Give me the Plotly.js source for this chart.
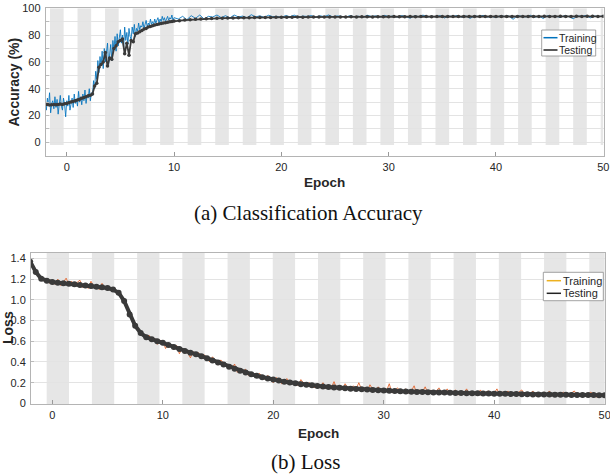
<!DOCTYPE html>
<html>
<head>
<meta charset="utf-8">
<script src="https://cdn.plot.ly/plotly-3.0.1.min.js"></script>
<style>html,body{margin:0;padding:0;background:#fff}#chart{width:610px;height:475px}</style>
</head>
<body>
<div id="chart"></div>
<script>
// ---------------- DATA ----------------
// (a) Classification accuracy (%)
const accTrainStartA = -2, accTrainStepA = 0.1;
const accTrainA = [
 30, 24, 33, 27, 37, 22, 29, 31, 25, 34,
 26, 32, 21, 30, 35, 27, 24, 33, 28, 19,
 31, 27, 35, 24, 30, 33, 26, 36, 29, 32,
 27, 38, 30, 34, 28, 36, 31, 39, 29, 35,
 33, 40, 31, 37, 35, 46, 40, 53, 47, 61,
 52, 64, 57, 68, 55, 70, 60, 66, 74, 58,
 67, 73, 61, 76, 69, 79, 68, 81, 72, 78,
 84, 74, 80, 70, 86, 76, 82, 73, 85, 79,
 77, 86, 81, 88, 79, 85, 83, 89, 84, 87,
 86, 90, 85, 88, 91, 86, 89, 87, 92, 88,
 90, 88, 92, 89, 91, 93, 89, 92, 90, 94,
 91, 93, 90, 92, 94, 91, 93, 92, 95, 91,
 93];
const accTrainStartB = 10.4, accTrainStepB = 0.4;
const accTrainB = [
 92, 94, 91.5, 94.5, 92.5, 95, 92, 94, 93.5, 95,
 93, 94.5, 92.8, 95, 93.5, 94.2, 93, 95.2, 93.6, 94.4,
 93.2, 94.8, 93.8, 94, 93.1, 94.6, 93.7, 94.9, 93.4, 94.2,
 93.9, 94.6, 93.3, 94.4, 93.8, 95, 93.6, 94.3, 94, 93.5,
 94.5, 93.7, 94.1, 93.2, 94.8, 93.9, 94.3, 93.6, 94.7, 93.8,
 94.2, 93.5, 94.6, 93.9, 92.6, 94.4, 93.8, 94.9, 93.6, 94.1,
 93.7, 94.5, 92.8, 94.2, 93.9, 94.6, 93.4, 94.3, 92.5, 94.4,
 93.8, 94.7, 93.5, 94.1, 93, 94.5, 93.9, 94.2, 91.8, 94.6,
 94, 93.6, 94.8, 93.3, 94.2, 92.4, 94.5, 93.9, 94.1, 93.2,
 94.6, 93.8, 92.2, 94.3, 93.9, 94.7, 92.9, 94.2, 93.7, 94.4];
const accTestStartA = -2, accTestStepA = 0.2;
const accTestA = [
 28, 28.2, 27.8, 28, 28.3, 28, 28.2, 28.5, 28.3, 28.8,
 29, 29.5, 30, 30.5, 31, 31.5, 32.2, 32.8, 33.5, 34,
 34.8, 35.2, 36, 42, 44, 56, 58, 60, 67, 57,
 63, 62, 70, 72, 75, 76, 77, 66, 74, 65,
 76, 75, 81, 81.5, 82.5, 83.5, 84.5, 85, 86, 86.5,
 87, 87.5, 88, 88.3, 88.6, 89, 89.3, 89.6, 89.9, 90.2,
 90.5];
const accTestStartB = 10.5, accTestStepB = 0.5;
const accTestB = [
 90.8, 91.2, 91.5, 91.8, 92, 92.2, 92.4, 92.5, 92.6, 92.7,
 92.8, 92.9, 93, 93, 93.1, 93.1, 93.2, 93.2, 93.3, 93.3,
 93.4, 93.4, 93.5, 93.4, 93.5, 93.5, 93.5, 93.6, 93.5, 93.6,
 93.6, 93.6, 93.7, 93.6, 93.7, 93.7, 93.6, 93.7, 93.7, 93.7,
 93.8, 93.7, 93.7, 93.8, 93.7, 93.8, 93.8, 93.7, 93.8, 93.8,
 93.8, 93.8, 93.9, 93.8, 93.8, 93.9, 93.8, 93.9, 93.8, 93.9,
 93.9, 93.8, 93.9, 93.9, 93.9, 93.8, 93.9, 93.9, 94, 93.9,
 93.9, 94, 93.9, 93.9, 94, 93.9, 94, 94, 93.9, 94];

// (b) Loss
const lossTrainStart = -2, lossTrainStep = 0.25;
const lossTrain = [
 1.38, 1.31, 1.29, 1.22, 1.21, 1.18, 1.2, 1.16,
 1.19, 1.15, 1.2, 1.14, 1.17, 1.21, 1.15, 1.18,
 1.13, 1.17, 1.19, 1.12, 1.15, 1.11, 1.18, 1.13,
 1.14, 1.1, 1.16, 1.11, 1.13, 1.09, 1.12, 1.07,
 1.08, 1.03, 1.0, 0.94, 0.87, 0.8, 0.76, 0.71,
 0.69, 0.66, 0.63, 0.66, 0.6, 0.63, 0.57, 0.61,
 0.6, 0.53, 0.58, 0.55, 0.52, 0.56, 0.48, 0.53,
 0.51, 0.49, 0.44, 0.5, 0.47, 0.49, 0.43, 0.47,
 0.44, 0.4, 0.45, 0.41, 0.37, 0.42, 0.39, 0.36,
 0.37, 0.34, 0.38, 0.3, 0.34, 0.31, 0.33, 0.27,
 0.3, 0.28, 0.25, 0.29, 0.26, 0.23, 0.27, 0.24,
 0.2, 0.25, 0.23, 0.19, 0.22, 0.24, 0.19, 0.21,
 0.2, 0.17, 0.23, 0.19, 0.16, 0.2, 0.18, 0.15,
 0.19, 0.16, 0.2, 0.14, 0.17, 0.15, 0.21, 0.14,
 0.16, 0.13, 0.19, 0.15, 0.12, 0.17, 0.14, 0.2,
 0.13, 0.15, 0.11, 0.18, 0.14, 0.12, 0.16, 0.11,
 0.14, 0.12, 0.19, 0.1, 0.13, 0.15, 0.11, 0.12,
 0.14, 0.1, 0.12, 0.17, 0.09, 0.13, 0.11, 0.16,
 0.1, 0.13, 0.09, 0.12, 0.15, 0.1, 0.11, 0.14,
 0.09, 0.11, 0.13, 0.08, 0.12, 0.1, 0.14, 0.09,
 0.11, 0.1, 0.08, 0.13, 0.09, 0.11, 0.12, 0.08,
 0.1, 0.14, 0.08, 0.11, 0.09, 0.12, 0.07, 0.1,
 0.09, 0.11, 0.13, 0.08, 0.1, 0.09, 0.12, 0.07,
 0.1, 0.08, 0.11, 0.09, 0.12, 0.07, 0.1, 0.09,
 0.08, 0.11, 0.09, 0.07, 0.1, 0.12, 0.08, 0.09,
 0.1, 0.07, 0.09, 0.11, 0.08, 0.06, 0.09, 0.08,
 0.09];
const lossTestStart = -2, lossTestStep = 0.5;
const lossTest = [
 1.37, 1.27, 1.205, 1.185, 1.172, 1.166, 1.16, 1.155, 1.15, 1.145,
 1.14, 1.135, 1.128, 1.122, 1.115, 1.10, 1.07, 0.99, 0.86, 0.75,
 0.68, 0.64, 0.62, 0.60, 0.585, 0.565, 0.545, 0.525, 0.505, 0.49,
 0.475, 0.455, 0.435, 0.415, 0.395, 0.375, 0.355, 0.335, 0.315, 0.298,
 0.282, 0.267, 0.253, 0.24, 0.23, 0.22, 0.21, 0.202, 0.194, 0.186,
 0.18, 0.174, 0.168, 0.163, 0.158, 0.154, 0.15, 0.146, 0.142, 0.139,
 0.136, 0.133, 0.13, 0.128, 0.125, 0.122, 0.12, 0.117, 0.115, 0.113,
 0.111, 0.109, 0.108, 0.106, 0.105, 0.104, 0.102, 0.101, 0.1, 0.099,
 0.098, 0.097, 0.096, 0.095, 0.094, 0.093, 0.092, 0.091, 0.09, 0.089,
 0.088, 0.087, 0.087, 0.086, 0.085, 0.084, 0.084, 0.083, 0.082, 0.082,
 0.081, 0.08, 0.08, 0.079, 0.079];

const accTickVals = [0, 10, 20, 30, 40, 50, 60, 70, 80, 90, 100];
const accTickText = ['0', '', '20', '', '40', '', '60', '', '80', '', '100'];
const lossTickVals = [0, 0.2, 0.4, 0.6, 0.8, 1.0, 1.2, 1.4];
const lossTickText = ['0', '0.2', '0.4', '0.6', '0.8', '1.0', '1.2', '1.4'];
const epochTickVals = [0, 10, 20, 30, 40, 50];
const seriesNames = ['Training', 'Testing'];
const captions = ['(a) Classification Accuracy', '(b) Loss'];

// ---------------- HELPERS ----------------
function epochs(start, step, n) { const a = []; for (let i = 0; i < n; i++) a.push(+(start + i * step).toFixed(4)); return a; }
const W = 610, H = 475;
const px = v => v / W, py = v => 1 - v / H;

const accTrainX = epochs(accTrainStartA, accTrainStepA, accTrainA.length).concat(epochs(accTrainStartB, accTrainStepB, accTrainB.length));
const accTrainY = accTrainA.concat(accTrainB);
const accTestX = epochs(accTestStartA, accTestStepA, accTestA.length).concat(epochs(accTestStartB, accTestStepB, accTestB.length));
const accTestY = accTestA.concat(accTestB);
const lossTrainX = epochs(lossTrainStart, lossTrainStep, lossTrain.length);
const lossTestX = epochs(lossTestStart, lossTestStep, lossTest.length);

const BLUE = '#0072BD', ORANGE = '#E2581A', LEG_ORANGE = '#EDB120', DARK = '#3a3a3a';
const TXT = '#262626', AXC = '#b4b4b4', GRID = '#e3e3e3', BAND = '#e6e6e6';
const sans = 'Liberation Sans, Arial, Helvetica, sans-serif';
const serif = 'Liberation Serif, Times New Roman, serif';

const traces = [
  {x: accTrainX, y: accTrainY, name: seriesNames[0], type: 'scatter', mode: 'lines',
   line: {color: BLUE, width: 1}, opacity: 0.85, xaxis: 'x', yaxis: 'y', showlegend: false},
  {x: accTestX, y: accTestY, name: seriesNames[1], type: 'scatter', mode: 'lines+markers',
   line: {color: DARK, width: 1.8}, marker: {color: DARK, size: 3.5}, xaxis: 'x', yaxis: 'y', showlegend: false},
  {x: lossTrainX, y: lossTrain, name: seriesNames[0], type: 'scatter', mode: 'lines',
   line: {color: ORANGE, width: 1}, opacity: 0.8, xaxis: 'x2', yaxis: 'y2', showlegend: false},
  {x: lossTestX, y: lossTest, name: seriesNames[1], type: 'scatter', mode: 'lines+markers',
   line: {color: DARK, width: 4}, marker: {color: DARK, size: 6}, xaxis: 'x2', yaxis: 'y2', showlegend: false}
];

// background bands
const shapes = [];
for (let k = 0; k < 21; k++) {
  const s = -1.56 + k * 2.566;
  if (s >= 50) break;
  shapes.push({type: 'rect', xref: 'x', yref: 'y', x0: s, x1: Math.min(s + 1.27, 50), y0: -2, y1: 100,
    fillcolor: BAND, line: {width: 0}, layer: 'below'});
}
for (let k = 0; k < 14; k++) {
  const s = -0.51 + k * 4.093;
  if (s >= 50) break;
  shapes.push({type: 'rect', xref: 'x2', yref: 'y2', x0: s, x1: Math.min(s + 2.02, 50), y0: -0.006, y1: 1.456,
    fillcolor: BAND, line: {width: 0}, layer: 'below'});
}
// custom legends
function legendBox(x0, y0, x1, y1) {
  shapes.push({type: 'rect', xref: 'paper', yref: 'paper', x0: px(x0), x1: px(x1), y0: py(y1), y1: py(y0),
    fillcolor: '#ffffff', line: {color: '#8c8c8c', width: 0.8}, layer: 'above'});
}
function legendLine(x0, x1, y, color) {
  shapes.push({type: 'line', xref: 'paper', yref: 'paper', x0: px(x0), x1: px(x1), y0: py(y), y1: py(y),
    line: {color: color, width: 1.5}, layer: 'above'});
}
legendBox(541.7, 30, 595.7, 56);
legendLine(543.5, 557.5, 37.7, BLUE);
legendLine(543.5, 557.5, 50, '#222222');
legendBox(543.3, 272.3, 603.3, 300.7);
legendLine(546.7, 561, 280.7, LEG_ORANGE);
legendLine(546.7, 561, 293.3, '#222222');

function ann(text, x, y, size, opts) {
  return Object.assign({text: text, x: px(x), y: py(y), xref: 'paper', yref: 'paper', showarrow: false,
    xanchor: 'center', yanchor: 'middle', font: {family: sans, size: size, color: TXT}}, opts || {});
}
const annotations = [
  ann('Accuracy (%)', 14, 82.5, 14, {textangle: -90, font: {family: sans, size: 14, color: TXT, weight: 'bold'}}),
  ann('Epoch', 324.6, 182.3, 13.5, {font: {family: sans, size: 13.5, color: TXT, weight: 'bold'}}),
  ann(captions[0], 308, 213, 21, {font: {family: serif, size: 21, color: '#111'}}),
  ann('Loss', 8, 328, 14, {textangle: -90, borderpad: 0, font: {family: sans, size: 14, color: TXT, weight: 'bold'}}),
  ann('Epoch', 318, 433, 13.5, {font: {family: sans, size: 13.5, color: TXT, weight: 'bold'}}),
  ann(captions[1], 305, 462, 21, {font: {family: serif, size: 21, color: '#111'}}),
  ann(seriesNames[0], 558, 37.7, 10.5, {xanchor: 'left', font: {family: sans, size: 10.5, color: TXT}, borderpad: 0}),
  ann(seriesNames[1], 558, 50, 10.5, {xanchor: 'left', font: {family: sans, size: 10.5, color: TXT}, borderpad: 0}),
  ann(seriesNames[0], 561.5, 280.7, 11, {xanchor: 'left', font: {family: sans, size: 11, color: TXT}, borderpad: 0}),
  ann(seriesNames[1], 561.5, 293.3, 11, {xanchor: 'left', font: {family: sans, size: 11, color: TXT}, borderpad: 0})
];

const tickFont = {family: sans, size: 11, color: TXT};
const baseX = {showgrid: false, zeroline: false, showline: true, linecolor: AXC, linewidth: 1, mirror: true,
  ticks: 'inside', ticklen: 4, tickcolor: '#999', tickvals: epochTickVals, tickfont: tickFont, ticklabelstandoff: 1,
  ticklabeloverflow: 'allow'};
const baseY = {showgrid: true, gridcolor: GRID, gridwidth: 1, zeroline: false, showline: true, linecolor: AXC,
  linewidth: 1, mirror: true, ticks: 'inside', ticklen: 3, tickcolor: '#bbb', tickfont: tickFont, ticklabelstandoff: 2};

const layout = {
  width: W, height: H, margin: {l: 0, r: 0, t: 0, b: 0}, paper_bgcolor: '#fff', plot_bgcolor: '#fff',
  showlegend: false,
  xaxis: Object.assign({}, baseX, {domain: [px(45.7), px(603.5)], range: [-1.96, 50.02], anchor: 'y'}),
  yaxis: Object.assign({}, baseY, {domain: [py(155.7), py(8.3)], range: [-10, 100], anchor: 'x',
    tickvals: accTickVals, ticktext: accTickText}),
  xaxis2: Object.assign({}, baseX, {domain: [px(31), px(605)], range: [-1.93, 50.03], anchor: 'y2'}),
  yaxis2: Object.assign({}, baseY, {domain: [py(404), py(252.7)], range: [-0.006, 1.456], anchor: 'x2',
    tickvals: lossTickVals, ticktext: lossTickText}),
  shapes: shapes,
  annotations: annotations
};

Plotly.newPlot('chart', traces, layout, {staticPlot: true, displayModeBar: false});
</script>
</body>
</html>
